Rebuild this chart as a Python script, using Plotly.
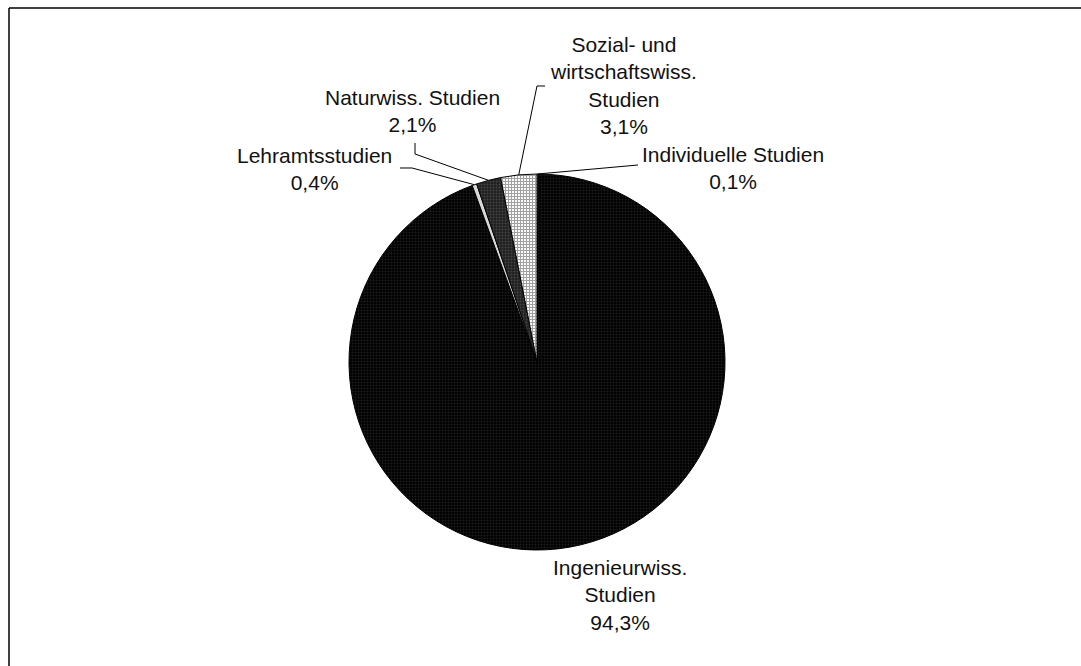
import math
import plotly.graph_objects as go

# ---- data ----
categories = ["Individuelle Studien", "Ingenieurwiss. Studien", "Lehramtsstudien",
              "Naturwiss. Studien", "Sozial- und wirtschaftswiss. Studien"]
values = [0.1, 94.3, 0.4, 2.1, 3.1]
label_texts = ["Individuelle Studien", "Ingenieurwiss.<br>Studien", "Lehramtsstudien",
               "Naturwiss. Studien", "Sozial- und<br>wirtschaftswiss.<br>Studien"]

W, H = 1081, 666
CX, CY, R = 537, 362, 188  # pie centre / radius in pixels

def px(x):
    return x / W

def py(y):
    return 1 - y / H

def fmt(v):
    return ("%.1f" % v).replace(".", ",") + "%"

fills = ["#ffffff", "#000000", "#d8d8d8", "#2a2a2a", "#ffffff"]
pat_shapes = ["", ".", "", ".", "+"]
pat_fg = ["#000", "#3a3a3a", "#000", "#6a6a6a", "#444444"]
pat_bg = ["#ffffff", "#000000", "#d8d8d8", "#1e1e1e", "#ffffff"]
pat_sol = [0.3, 0.35, 0.3, 0.35, 0.6]

fig = go.Figure()
fig.add_trace(go.Pie(
    labels=categories, values=values, sort=False, direction="clockwise", rotation=0,
    textinfo="none", hoverinfo="label+percent", showlegend=False,
    domain=dict(x=[px(CX - R), px(CX + R)], y=[py(CY + R), py(CY - R)]),
    marker=dict(colors=fills, line=dict(color="#000000", width=1),
                pattern=dict(shape=pat_shapes, fgcolor=pat_fg, bgcolor=pat_bg,
                             size=3, solidity=pat_sol, fillmode="overlay")),
))

# label positions (pixels) and leader line starting points
label_pos = [(733, 167.5), (620, 594.5), (314, 168.5), (412, 111), (623, 85.5)]
leader_start = [
    [(638, 165)],
    None,
    [(400, 168), (412, 168)],
    [(415, 143), (415, 154)],
    [(545, 86), (537, 86)],
]

total = sum(values)
cum = 0.0
annotations = []
shapes = []
for i, v in enumerate(values):
    mid = (cum + v / 2) / total * 2 * math.pi
    cum += v
    ex = CX + R * math.sin(mid)
    ey = CY - R * math.cos(mid)
    lx, ly = label_pos[i]
    annotations.append(dict(
        x=px(lx), y=py(ly), xref="paper", yref="paper", showarrow=False,
        text=label_texts[i] + "<br>" + fmt(v), align="center",
        xanchor="center", yanchor="middle",
        font=dict(family="Liberation Sans, Arial", size=21, color="#111111"),
    ))
    if leader_start[i]:
        pts = leader_start[i] + [(ex, ey)]
        path = "M " + " L ".join("%f,%f" % (px(a), py(b)) for a, b in pts)
        shapes.append(dict(type="path", path=path, xref="paper", yref="paper",
                           line=dict(color="#000000", width=1)))

# white strip on the right edge (keeps that edge clean)
shapes.append(dict(type="rect", xref="paper", yref="paper", x0=px(1050), x1=1.0,
                   y0=0.0, y1=py(11), fillcolor="#ffffff", line=dict(width=0),
                   layer="above"))
# chart frame (top and left edges visible)
shapes.append(dict(type="line", xref="paper", yref="paper", x0=px(9), x1=1.0,
                   y0=py(8), y1=py(8), line=dict(color="#000000", width=1.5)))
shapes.append(dict(type="line", xref="paper", yref="paper", x0=px(9), x1=px(9),
                   y0=py(8), y1=0.0, line=dict(color="#000000", width=1.5)))

fig.update_layout(
    width=W, height=H, margin=dict(l=0, r=0, t=0, b=0),
    paper_bgcolor="#ffffff", plot_bgcolor="#ffffff",
    annotations=annotations, shapes=shapes,
)

fig.write_html("out.html", config={"displayModeBar": False},
               post_script="document.body.style.margin='0';"
                           "document.body.style.overflow='hidden';")
